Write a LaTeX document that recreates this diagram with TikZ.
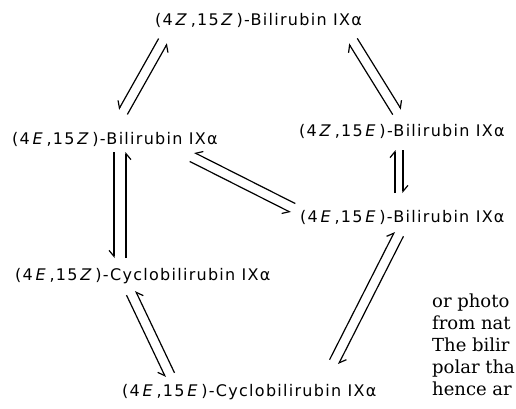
\documentclass[tikz,border=0pt]{standalone}
\usepackage{fontspec}
\setmainfont{DejaVu Serif}
\newfontfamily\cmpdfont[LetterSpace=8]{DejaVu Sans}
\usetikzlibrary{arrows.meta, calc}

% two opposed harpoons between two points, #4 = half gap
\newcommand{\eqpair}[4][rharp]{%
  \draw[#1] ($(#2)!#4!-90:(#3)$) -- ($(#3)!#4!90:(#2)$);
  \draw[#1] ($(#3)!#4!-90:(#2)$) -- ($(#2)!#4!90:(#3)$);
}

\begin{document}
\begin{tikzpicture}[
    x=1pt, y=-1pt,
    compound/.style={
        font=\cmpdfont\fontsize{16}{18}\selectfont,
        inner sep=0pt,
        anchor=west
    },
    rharp/.style={
        -{Straight Barb[harpoon, swap, length=6pt, width=10pt]},
        line width=1.2pt
    },
    lharp/.style={
        -{Straight Barb[harpoon, length=6pt, width=10pt]},
        line width=1.2pt
    },
    pagetext/.style={
        font=\fontsize{18}{22}\selectfont,
        align=left,
        anchor=north west,
        inner sep=0pt
    }
]
    \useasboundingbox (0,0) rectangle (516,409);

    % Compounds
    \node[compound] (zz) at (155,20) {(4\,\textit{Z}\,,15\,\textit{Z}\,)-Bilirubin IXα};
    \node[compound] (ez) at (12,139) {(4\,\textit{E}\,,15\,\textit{Z}\,)-Bilirubin IXα};
    \node[compound] (ze) at (299,131) {(4\,\textit{Z}\,,15\,\textit{E}\,)-Bilirubin IXα};
    \node[compound] (ee) at (300,217) {(4\,\textit{E}\,,15\,\textit{E}\,)-Bilirubin IXα};
    \node[compound] (cez) at (15,276) {(4\,\textit{E}\,,15\,\textit{Z}\,)-Cyclobilirubin IXα};
    \node[compound] (cee) at (122,392) {(4\,\textit{E}\,,15\,\textit{E}\,)-Cyclobilirubin IXα};

    % Arrow ends
    \coordinate (p1a) at (163,41);  \coordinate (p1b) at (123,112);
    \coordinate (p2a) at (353,41);  \coordinate (p2b) at (397,112);
    \coordinate (p3a) at (120,152); \coordinate (p3b) at (120,258);
    \coordinate (p4a) at (399,150); \coordinate (p4b) at (399,193);
    \coordinate (p5a) at (192,157); \coordinate (p5b) at (293,208);
    \coordinate (p6a) at (399,234); \coordinate (p6b) at (334,362);
    \coordinate (p7a) at (131,293); \coordinate (p7b) at (170,375);

    % Equilibria
    \eqpair{p1a}{p1b}{5pt}           % zz <-> ez
    \eqpair[lharp]{p2a}{p2b}{-5pt}   % zz <-> ze
    \eqpair{p3a}{p3b}{6pt}           % ez <-> cez
    \eqpair[lharp]{p4a}{p4b}{-4pt}   % ze <-> ee
    \eqpair{p5a}{p5b}{5pt}           % ez <-> ee
    \eqpair[lharp]{p6a}{p6b}{-5pt}   % ee <-> cee
    \eqpair{p7a}{p7b}{5pt}           % cez <-> cee

    % Page text at the edge
    \node[pagetext] (page) at (432,294) {or photo\\from nat\\The bilir\\polar tha\\hence ar};
\end{tikzpicture}
\end{document}
